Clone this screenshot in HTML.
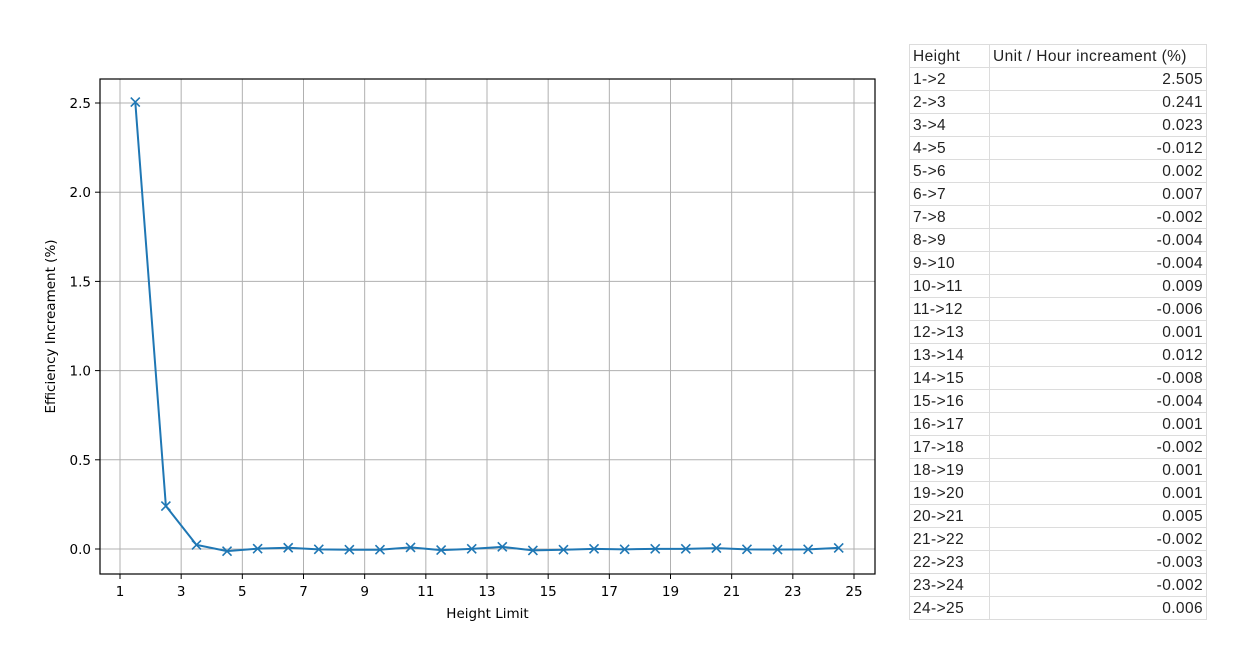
<!DOCTYPE html>
<html><head><meta charset="utf-8"><style>
body{margin:0;width:1253px;height:665px;background:#fff;position:relative;overflow:hidden;font-family:"DejaVu Sans","Liberation Sans",sans-serif}
#tbl{position:absolute;left:909px;top:44px;border-collapse:collapse;font-family:"Liberation Sans","Noto Sans CJK SC",sans-serif;font-size:15.5px;letter-spacing:0.4px;color:#222}
#tbl td{border:1px solid #dcdcdc;height:20px;padding:2px 3px 0 3px;line-height:20px;white-space:nowrap;box-sizing:content-box}
#tbl td.c1{width:73px}
#tbl td.c2{width:210px;text-align:right}
#tbl tr:first-child td.c2{text-align:left}
</style></head><body>
<svg id="chart" width="900" height="665" style="position:absolute;left:0;top:0" font-family="DejaVu Sans, Liberation Sans, sans-serif"></svg>
<table id="tbl"></table>
<script>
const heights=[1.5,2.5,3.5,4.5,5.5,6.5,7.5,8.5,9.5,10.5,11.5,12.5,13.5,14.5,15.5,16.5,17.5,18.5,19.5,20.5,21.5,22.5,23.5,24.5];
const labels=["1->2","2->3","3->4","4->5","5->6","6->7","7->8","8->9","9->10","10->11","11->12","12->13","13->14","14->15","15->16","16->17","17->18","18->19","19->20","20->21","21->22","22->23","23->24","24->25"];
const values=[2.505,0.241,0.023,-0.012,0.002,0.007,-0.002,-0.004,-0.004,0.009,-0.006,0.001,0.012,-0.008,-0.004,0.001,-0.002,0.001,0.001,0.005,-0.002,-0.003,-0.002,0.006];
const xTicks=[1,3,5,7,9,11,13,15,17,19,21,23,25];
const yTicks=[0,0.5,1,1.5,2,2.5];
const yTickLabels=["0.0","0.5","1.0","1.5","2.0","2.5"];
const NS="http://www.w3.org/2000/svg";
const svg=document.getElementById('chart');
const L=100,R=875,T=79,B=574;
const xs=v=>120+(v-1)*(854-120)/24;
const ys=v=>549-v*(549-103)/2.5;
function mk(t,a,p){const e=document.createElementNS(NS,t);for(const k in a)e.setAttribute(k,a[k]);(p||svg).appendChild(e);return e;}
xTicks.forEach(t=>{
 const g=mk('line',{x1:xs(t),x2:xs(t),y1:T,y2:B,stroke:'#b0b0b0','stroke-width':1});
 
 
 mk('line',{x1:xs(t),x2:xs(t),y1:B,y2:B+5,stroke:'#000'});
 const tx=mk('text',{x:xs(t),y:B+22,'text-anchor':'middle','font-size':13.5,fill:'#000'});tx.textContent=t;
 
 
});
yTicks.forEach((t,i)=>{
 const g=mk('line',{x1:L,x2:R,y1:ys(t),y2:ys(t),stroke:'#b0b0b0','stroke-width':1});
 
 
 mk('line',{x1:L-5,x2:L,y1:ys(t),y2:ys(t),stroke:'#000'});
 const tx=mk('text',{x:L-9,y:ys(t)+5,'text-anchor':'end','font-size':13.5,fill:'#000'});tx.textContent=yTickLabels[i];
 
 
});
const fr=mk('rect',{x:L,y:T,width:R-L,height:B-T,fill:'none',stroke:'#000','stroke-width':1.2});


const pl=mk('polyline',{points:heights.map((h,i)=>xs(h)+','+ys(values[i])).join(' '),fill:'none',stroke:'#1f77b4','stroke-width':2});


heights.forEach((h,i)=>{
 const x=xs(h),y=ys(values[i]),s=4.5;
 const p=mk('path',{d:`M${x-s},${y-s}L${x+s},${y+s}M${x-s},${y+s}L${x+s},${y-s}`,stroke:'#1f77b4','stroke-width':1.6});
 
 
});
const xl=mk('text',{x:(L+R)/2,y:618,'text-anchor':'middle','font-size':13.5});xl.textContent='Height Limit';


const yl=mk('text',{x:0,y:0,'text-anchor':'middle','font-size':13.5,transform:`translate(55,${(T+B)/2}) rotate(-90)`});yl.textContent='Efficiency Increament (%)';


const tbl=document.getElementById('tbl');
const hr=tbl.insertRow();


let c=hr.insertCell();c.className='c1';c.textContent='Height';
c=hr.insertCell();c.className='c2';c.textContent='Unit / Hour increament (%)';
labels.forEach((l,i)=>{
 const r=tbl.insertRow();
 
 
 let a=r.insertCell();a.className='c1';a.textContent=l;
 let b=r.insertCell();b.className='c2';b.textContent=values[i].toFixed(3);
});
</script>
</body></html>
